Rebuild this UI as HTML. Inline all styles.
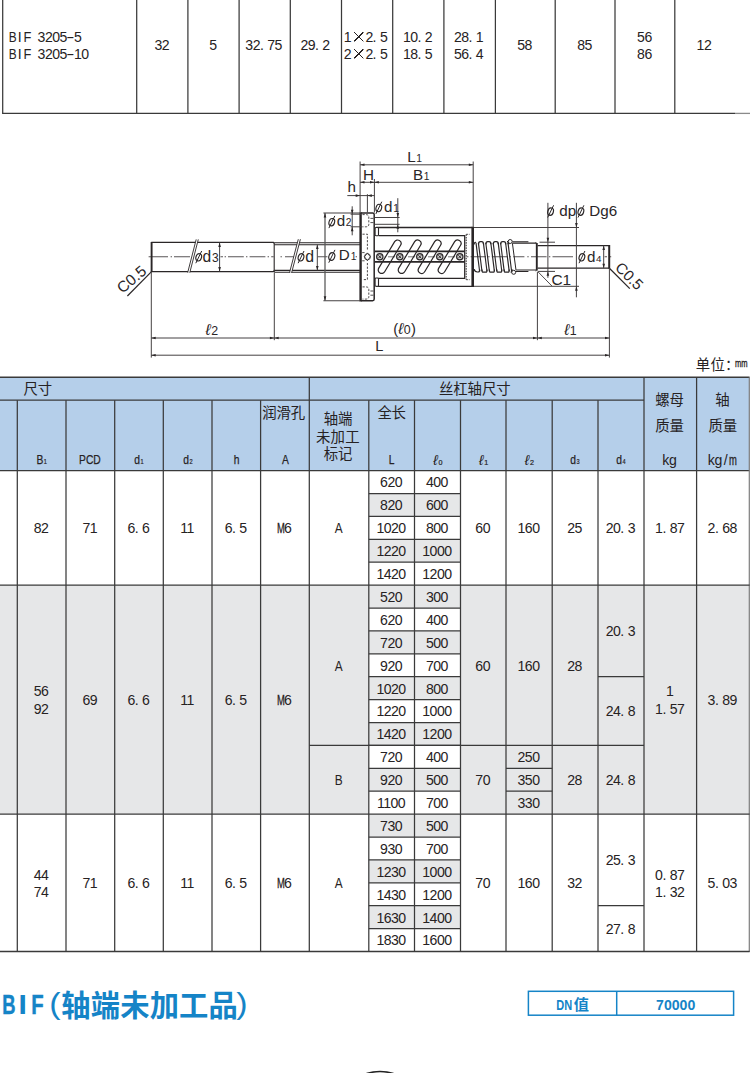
<!DOCTYPE html>
<html lang="zh-CN"><head><meta charset="utf-8"><title>BIF (轴端未加工品) 规格表</title>
<style>
html,body{margin:0;padding:0;background:#fff}
body{width:750px;height:1073px;position:relative;overflow:hidden;font-family:"Liberation Sans",sans-serif;color:#262223}
#art{position:absolute;left:0;top:0;width:750px;height:1073px;display:block}
#art path{fill:none}
#art .dg text{font-family:"Liberation Sans",sans-serif;fill:#2a2627}
#art text.cj{font-family:"Liberation Sans","Noto Sans CJK SC",sans-serif;font-size:14.4px;fill:#262223}
.t{position:absolute;width:120px;height:20px;line-height:20px;text-align:center;white-space:nowrap;font-size:14.1px;letter-spacing:-.55px}
.t.l{text-align:left;width:auto}
.t i{font-style:normal;letter-spacing:3.4px}
.m{display:inline-block;text-align:center;letter-spacing:0;white-space:pre}
.x{color:transparent;height:20px;vertical-align:top;background:linear-gradient(45deg,transparent calc(50% - .55px),#262223 calc(50% - .5px),#262223 calc(50% + .5px),transparent calc(50% + .55px)) 50% 5.3px/9.6px 9.6px no-repeat,linear-gradient(-45deg,transparent calc(50% - .55px),#262223 calc(50% - .5px),#262223 calc(50% + .5px),transparent calc(50% + .55px)) 50% 5.3px/9.6px 9.6px no-repeat}
.hd{font-size:13.2px;letter-spacing:0}
.hx{display:inline-block;transform:scaleX(.78);font-weight:400;-webkit-text-stroke:.25px #262223}
.hx sub,.ls{font-size:7.2px;vertical-align:baseline;position:relative;top:.2px;margin-left:.6px;-webkit-text-stroke:.2px #262223}
.hl{display:inline-block;font-style:italic;font-size:14.4px}
.ttl{font-size:27.4px;font-weight:700;color:#1584c7;letter-spacing:0;height:40px;line-height:40px}
.dn{font-size:14.1px;font-weight:700;color:#1584c7;letter-spacing:0}
</style></head><body>
<svg id="art" width="750" height="1073" viewBox="0 0 750 1073">
<path d="M2.7 0V113.4" stroke="#3a3a3a" stroke-width="1.25"/>
<path d="M136.7 0V113.4" stroke="#3a3a3a" stroke-width="1.25"/>
<path d="M187.9 0V113.4" stroke="#3a3a3a" stroke-width="1.25"/>
<path d="M239.1 0V113.4" stroke="#3a3a3a" stroke-width="1.25"/>
<path d="M290.3 0V113.4" stroke="#3a3a3a" stroke-width="1.25"/>
<path d="M341.5 0V113.4" stroke="#3a3a3a" stroke-width="1.25"/>
<path d="M392.7 0V113.4" stroke="#3a3a3a" stroke-width="1.25"/>
<path d="M443.9 0V113.4" stroke="#3a3a3a" stroke-width="1.25"/>
<path d="M495.4 0V113.4" stroke="#3a3a3a" stroke-width="1.25"/>
<path d="M555.2 0V113.4" stroke="#3a3a3a" stroke-width="1.25"/>
<path d="M615 0V113.4" stroke="#3a3a3a" stroke-width="1.25"/>
<path d="M674.8 0V113.4" stroke="#3a3a3a" stroke-width="1.25"/>
<path d="M2.1 113.4H735" stroke="#3a3a3a" stroke-width="1.3"/>
<path d="M735 113.4H750" stroke="#8a8a8a" stroke-width="1.3"/>
<rect x="0" y="377.2" width="749.6" height="93.4" fill="#b5cfea"/>
<rect x="0" y="585.1" width="749.6" height="229" fill="#e6e7e8"/>
<rect x="368.8" y="493.5" width="91.7" height="22.9" fill="#e6e7e8"/>
<rect x="368.8" y="539.3" width="91.7" height="22.9" fill="#e6e7e8"/>
<rect x="368.8" y="608" width="91.7" height="22.9" fill="#fff"/>
<rect x="368.8" y="653.8" width="91.7" height="22.9" fill="#fff"/>
<rect x="368.8" y="699.6" width="91.7" height="22.9" fill="#fff"/>
<rect x="368.8" y="745.4" width="91.7" height="22.9" fill="#fff"/>
<rect x="368.8" y="791.2" width="91.7" height="22.9" fill="#fff"/>
<rect x="368.8" y="814.1" width="91.7" height="22.9" fill="#e6e7e8"/>
<rect x="368.8" y="859.9" width="91.7" height="22.9" fill="#e6e7e8"/>
<rect x="368.8" y="905.7" width="91.7" height="22.9" fill="#e6e7e8"/>
<path d="M0 377.2H749.6" stroke="#3a3a3a" stroke-width="1.4"/>
<path d="M0 400.2H644" stroke="#3a3a3a" stroke-width="1.3"/>
<path d="M0 470.6H749.6" stroke="#3a3a3a" stroke-width="1.4"/>
<path d="M17.3 400.2V952.1" stroke="#3a3a3a" stroke-width="1.25"/>
<path d="M66 400.2V952.1" stroke="#3a3a3a" stroke-width="1.25"/>
<path d="M114.7 400.2V952.1" stroke="#3a3a3a" stroke-width="1.25"/>
<path d="M163.3 400.2V952.1" stroke="#3a3a3a" stroke-width="1.25"/>
<path d="M212 400.2V952.1" stroke="#3a3a3a" stroke-width="1.25"/>
<path d="M260.6 400.2V952.1" stroke="#3a3a3a" stroke-width="1.25"/>
<path d="M309.3 377.2V952.1" stroke="#3a3a3a" stroke-width="1.25"/>
<path d="M368.8 400.2V952.1" stroke="#3a3a3a" stroke-width="1.25"/>
<path d="M414.5 400.2V952.1" stroke="#3a3a3a" stroke-width="1.25"/>
<path d="M460.5 400.2V952.1" stroke="#3a3a3a" stroke-width="1.25"/>
<path d="M506 400.2V952.1" stroke="#3a3a3a" stroke-width="1.25"/>
<path d="M552.2 400.2V952.1" stroke="#3a3a3a" stroke-width="1.25"/>
<path d="M598 400.2V952.1" stroke="#3a3a3a" stroke-width="1.25"/>
<path d="M644 377.2V952.1" stroke="#3a3a3a" stroke-width="1.25"/>
<path d="M696.6 377.2V952.1" stroke="#3a3a3a" stroke-width="1.25"/>
<path d="M749.3 377.2V952.1" stroke="#7d7d7d" stroke-width="1.2"/>
<path d="M0 585.1H749.6" stroke="#3a3a3a" stroke-width="1.35"/>
<path d="M0 814.1H749.6" stroke="#3a3a3a" stroke-width="1.35"/>
<path d="M0 951.5H749.6" stroke="#3a3a3a" stroke-width="1.35"/>
<path d="M368.8 493.5H460.5" stroke="#3a3a3a" stroke-width="1.25"/>
<path d="M368.8 516.4H460.5" stroke="#3a3a3a" stroke-width="1.25"/>
<path d="M368.8 539.3H460.5" stroke="#3a3a3a" stroke-width="1.25"/>
<path d="M368.8 562.2H460.5" stroke="#3a3a3a" stroke-width="1.25"/>
<path d="M368.8 608H460.5" stroke="#3a3a3a" stroke-width="1.25"/>
<path d="M368.8 630.9H460.5" stroke="#3a3a3a" stroke-width="1.25"/>
<path d="M368.8 653.8H460.5" stroke="#3a3a3a" stroke-width="1.25"/>
<path d="M368.8 676.7H460.5" stroke="#3a3a3a" stroke-width="1.25"/>
<path d="M368.8 699.6H460.5" stroke="#3a3a3a" stroke-width="1.25"/>
<path d="M368.8 722.5H460.5" stroke="#3a3a3a" stroke-width="1.25"/>
<path d="M368.8 745.4H460.5" stroke="#3a3a3a" stroke-width="1.25"/>
<path d="M368.8 768.3H460.5" stroke="#3a3a3a" stroke-width="1.25"/>
<path d="M368.8 791.2H460.5" stroke="#3a3a3a" stroke-width="1.25"/>
<path d="M368.8 837H460.5" stroke="#3a3a3a" stroke-width="1.25"/>
<path d="M368.8 859.9H460.5" stroke="#3a3a3a" stroke-width="1.25"/>
<path d="M368.8 882.8H460.5" stroke="#3a3a3a" stroke-width="1.25"/>
<path d="M368.8 905.7H460.5" stroke="#3a3a3a" stroke-width="1.25"/>
<path d="M368.8 928.6H460.5" stroke="#3a3a3a" stroke-width="1.25"/>
<path d="M309.3 745.4H644" stroke="#3a3a3a" stroke-width="1.25"/>
<path d="M598 676.7H644" stroke="#3a3a3a" stroke-width="1.25"/>
<path d="M506 768.3H552.2" stroke="#3a3a3a" stroke-width="1.25"/>
<path d="M506 791.2H552.2" stroke="#3a3a3a" stroke-width="1.25"/>
<path d="M598 905.7H644" stroke="#3a3a3a" stroke-width="1.25"/>
<text class="cj" x="23.4 37.8" y="394.47">尺寸</text>
<text class="cj" x="439 453.3 467.6 481.9 496.2" y="394.47">丝杠轴尺寸</text>
<text class="cj" x="262.2 276.45 290.7" y="418.07">润滑孔</text>
<text class="cj" x="323.8 338" y="424.47">轴端</text>
<text class="cj" x="316 330.6 345.2" y="441.57">未加工</text>
<text class="cj" x="323.8 338" y="459.17">标记</text>
<text class="cj" x="377.4 391.6" y="418.07">全长</text>
<text class="cj" x="655.2 669.4" y="405.27">螺母</text>
<text class="cj" x="655.2 669.4" y="431.17">质量</text>
<text class="cj" x="715.3" y="405.27">轴</text>
<text class="cj" x="708.6 722.8" y="431.17">质量</text>
<text class="cj" x="695.8 710.4 725" y="369.87">单位：</text>
<text x="61.3 90.75 120.2 149.65 179.1 208.55" y="1016.43" font-family='"Liberation Sans","Noto Sans CJK SC",sans-serif' font-size="29.3" font-weight="700" fill="#1584c7">轴端未加工品</text>
<rect x="528.4" y="991.3" width="205.2" height="23.9" fill="#fff" stroke="#1584c7" stroke-width="1.5"/>
<path d="M616.7 991.3V1015.2" stroke="#1584c7" stroke-width="1.5"/>
<text x="573.7" y="1010.48" font-family='"Liberation Sans","Noto Sans CJK SC",sans-serif' font-size="15.2" font-weight="700" fill="#1584c7">值</text>
<path d="M366.5 1073.5Q380 1069.6 393.5 1073.5" fill="none" stroke="#222" stroke-width="1.6"/>
<g class="dg" fill="none"><path d="M148.6 256.8H168M170.6 256.8H172M174 256.8H190M192.4 256.8H193.8M220.5 256.8H223M224.6 256.8H226M228 256.8H243.8M246 256.8H247.4M249.6 256.8H265.4M267.6 256.8H269M271.2 256.8H273.6M280.5 256.8H281.9M285 256.8H296M317.6 256.8H327.4M355.6 256.8H357M467 256.8H468.4M470.6 256.8H486M488.2 256.8H489.6M491.8 256.8H507.4M509.6 256.8H511M513.2 256.8H524.4M527.3 256.8H528.7M531 256.8H546.6M548.9 256.8H550.3M552.5 256.8H573M604.6 256.8H607M609.5 256.8H611.2" stroke="#5a5657" stroke-width="1.05"/><path d="M151.3 242.4H273.4L274.2 243.2M151.3 271.5H273.4L274.2 270.7" stroke="#2a2627" stroke-width="1.25"/><path d="M151.6 242V272" stroke="#2a2627" stroke-width="1.9"/><path d="M274.2 242.8H360M274.2 272.2H360" stroke="#2a2627" stroke-width="1.05"/><path d="M274.2 244.7H360M274.2 270.3H360" stroke="#2a2627" stroke-width="1.15"/><path d="M274.2 243V272" stroke="#2a2627" stroke-width="1.1"/><path d="M187.7 272.6L196.2 239.4L198.3 239.4L189.8 272.6Z" style="fill:#fff" stroke="none"/><path d="M187.7 272.6L196.2 239.4" stroke="#2a2627" stroke-width="0.9"/><path d="M189.8 272.6L198.3 239.4" stroke="#2a2627" stroke-width="0.9"/><path d="M289.5 272.8L298.3 239.2L300.4 239.2L291.6 272.8Z" style="fill:#fff" stroke="none"/><path d="M289.5 272.8L298.3 239.2" stroke="#2a2627" stroke-width="0.9"/><path d="M291.6 272.8L300.4 239.2" stroke="#2a2627" stroke-width="0.9"/><path d="M360.6 213H372.6Q374.2 213 374.2 214.6V299.1Q374.2 300.7 372.6 300.7H360.6" stroke="#2a2627" stroke-width="1.5"/><path d="M360.6 212.3V301.4" stroke="#2a2627" stroke-width="2.4"/><path d="M362.5 214.6H365.8Q368.8 214.6 368.8 217V224.4Q368.8 226.8 365.8 226.8H362.5" stroke="#2a2627" stroke-width="0.85" stroke-dasharray="2.2 1.4"/><path d="M362.5 286.9H365.8Q368.8 286.9 368.8 289.3V296.7Q368.8 299.1 365.8 299.1H362.5" stroke="#2a2627" stroke-width="0.85" stroke-dasharray="2.2 1.4"/><path d="M370.4 218.4H373.4M370.4 222.6H373.4M370.4 291H373.4M370.4 295.2H373.4" stroke="#2a2627" stroke-width="0.8"/><path d="M362.5 234.2H367.4V250.5M367.4 263V279.6H362.5" stroke="#2a2627" stroke-width="0.85" stroke-dasharray="2.2 1.4"/><path d="M362.2 252.6H364.6M362.2 260.8H364.6" stroke="#2a2627" stroke-width="0.8"/><path d="M367.4 252.9L370.3 256.8L367.4 260.7L364.5 256.8Z" style="fill:#fff" stroke="#2a2627" stroke-width=".85"/><circle cx="367.4" cy="256.8" r="3.1" fill="none" stroke="#2a2627" stroke-width=".7"/><path d="M376 227.5H472.6M376 286.3H472.6" stroke="#2a2627" stroke-width="1.3"/><path d="M472.7 226.8V287" stroke="#2a2627" stroke-width="2.6"/><rect x="375.1" y="227.5" width="3.4" height="8.2" rx=".9" style="fill:#fff" stroke="#2a2627" stroke-width="1.1"/><rect x="375.1" y="278" width="3.4" height="8.3" rx=".9" style="fill:#fff" stroke="#2a2627" stroke-width="1.1"/><path d="M378.5 235.6H464.7V278.3H378.5" stroke="#2a2627" stroke-width="1.25"/><path d="M384.6 256.8H395.2M404.6 256.8H415.2M424.6 256.8H435.2M444.6 256.8H455.2" stroke="#777" stroke-width="1" stroke-dasharray="1.4 2 7.2 20"/><path d="M384.66 271.73L400.56 245.23A3.45 3.45 0 0 0 394.64 241.67L378.74 268.17A3.45 3.45 0 0 0 384.66 271.73Z" stroke="#2a2627" stroke-width="1.2"/><path d="M404.66 271.73L420.56 245.23A3.45 3.45 0 0 0 414.64 241.67L398.74 268.17A3.45 3.45 0 0 0 404.66 271.73Z" stroke="#2a2627" stroke-width="1.2"/><path d="M424.66 271.73L440.56 245.23A3.45 3.45 0 0 0 434.64 241.67L418.74 268.17A3.45 3.45 0 0 0 424.66 271.73Z" stroke="#2a2627" stroke-width="1.2"/><path d="M444.66 271.73L460.56 245.23A3.45 3.45 0 0 0 454.64 241.67L438.74 268.17A3.45 3.45 0 0 0 444.66 271.73Z" stroke="#2a2627" stroke-width="1.2"/><path d="M374.8 251.4H464.7M374.8 261.9H464.7" stroke="#2a2627" stroke-width="1.7"/><circle cx="379.8" cy="256.8" r="3.15" style="fill:#c9c9c9" stroke="#2a2627" stroke-width="1.25"/><path d="M378.3 255.3l3 3M378.3 258.3l3 -3" stroke="#2a2627" stroke-width="0.9"/><circle cx="399.8" cy="256.8" r="3.15" style="fill:#c9c9c9" stroke="#2a2627" stroke-width="1.25"/><path d="M398.3 255.3l3 3M398.3 258.3l3 -3" stroke="#2a2627" stroke-width="0.9"/><circle cx="419.8" cy="256.8" r="3.15" style="fill:#c9c9c9" stroke="#2a2627" stroke-width="1.25"/><path d="M418.3 255.3l3 3M418.3 258.3l3 -3" stroke="#2a2627" stroke-width="0.9"/><circle cx="439.8" cy="256.8" r="3.15" style="fill:#c9c9c9" stroke="#2a2627" stroke-width="1.25"/><path d="M438.3 255.3l3 3M438.3 258.3l3 -3" stroke="#2a2627" stroke-width="0.9"/><circle cx="459.8" cy="256.8" r="3.15" style="fill:#c9c9c9" stroke="#2a2627" stroke-width="1.25"/><path d="M458.3 255.3l3 3M458.3 258.3l3 -3" stroke="#2a2627" stroke-width="0.9"/><path d="M466.2 234.3V279.7" stroke="#2a2627" stroke-width="1" stroke-dasharray="1.6 1"/><path d="M466.2 234.3H470M466.2 279.7H470" stroke="#2a2627" stroke-width="0.8" stroke-dasharray="2 1.2"/><path d="M476 242.9L479.6 271.2" stroke="#2a2627" stroke-width="1.15"/><path d="M478.4 242.9L482 271.2" stroke="#2a2627" stroke-width="1.15"/><path d="M483.4 242.9L487 271.2" stroke="#2a2627" stroke-width="1.15"/><path d="M485.8 242.9L489.4 271.2" stroke="#2a2627" stroke-width="1.15"/><path d="M490.8 242.9L494.4 271.2" stroke="#2a2627" stroke-width="1.15"/><path d="M493.2 242.9L496.8 271.2" stroke="#2a2627" stroke-width="1.15"/><path d="M498.2 242.9L501.8 271.2" stroke="#2a2627" stroke-width="1.15"/><path d="M500.6 242.9L504.2 271.2" stroke="#2a2627" stroke-width="1.15"/><path d="M505.6 242.9L509.2 271.2" stroke="#2a2627" stroke-width="1.15"/><path d="M508 242.9L511.6 271.2" stroke="#2a2627" stroke-width="1.15"/><path d="M474.2 244.4C474.2 242.6 474.9 242 476 242.6" stroke="#2a2627" stroke-width="1.15"/><path d="M478.5 244.3C478.5 242.3 479.2 241.6 480.3 241.6H481.7C482.8 241.6 483.5 242.3 483.5 244.3" stroke="#2a2627" stroke-width="1.2"/><path d="M485.9 244.3C485.9 242.3 486.6 241.6 487.7 241.6H489.1C490.2 241.6 490.9 242.3 490.9 244.3" stroke="#2a2627" stroke-width="1.2"/><path d="M493.3 244.3C493.3 242.3 494 241.6 495.1 241.6H496.5C497.6 241.6 498.3 242.3 498.3 244.3" stroke="#2a2627" stroke-width="1.2"/><path d="M500.7 244.3C500.7 242.3 501.4 241.6 502.5 241.6H503.9C505 241.6 505.7 242.3 505.7 244.3" stroke="#2a2627" stroke-width="1.2"/><path d="M508.1 244.3C508.1 242.3 508.8 241.6 509.9 241.6H507C508.1 241.6 508.8 242.3 508.8 244.3" stroke="#2a2627" stroke-width="1.2"/><path d="M474.2 269.2C474.6 271.6 475.6 272 477.4 272H478.2C479 272 479.7 271.4 479.8 269.6" stroke="#2a2627" stroke-width="1.2"/><path d="M482 269.4C482 272.8 482.7 272.1 483.8 272.1H485.2C486.3 272.1 487 272.8 487 269.4" stroke="#2a2627" stroke-width="1.2"/><path d="M489.4 269.4C489.4 272.8 490.1 272.1 491.2 272.1H492.6C493.7 272.1 494.4 272.8 494.4 269.4" stroke="#2a2627" stroke-width="1.2"/><path d="M496.8 269.4C496.8 272.8 497.5 272.1 498.6 272.1H500C501.1 272.1 501.8 272.8 501.8 269.4" stroke="#2a2627" stroke-width="1.2"/><path d="M504.2 269.4C504.2 272.8 504.9 272.1 506 272.1H507.4C508.5 272.1 509.2 272.8 509.2 269.4" stroke="#2a2627" stroke-width="1.2"/><path d="M511.6 269.4C511.6 272.8 512.3 272.1 513.4 272.1H510.6C511.7 272.1 512.4 272.8 512.4 269.4" stroke="#2a2627" stroke-width="1.2"/><path d="M512.4 243.2L516 270.2" stroke="#2a2627" stroke-width="1"/><circle cx="510.2" cy="241.5" r="2" style="fill:#fff" stroke="#2a2627" stroke-width="1"/><circle cx="513.7" cy="272.3" r="2" style="fill:#fff" stroke="#2a2627" stroke-width="1"/><path d="M512.4 241.7H528.4M516 271.5H528.4" stroke="#2a2627" stroke-width="1.1"/><path d="M512.6 243.1H536M516.2 270.0H536" stroke="#2a2627" stroke-width="1.1"/><path d="M536.5 243Q536.5 242.6 535.6 242.6M536.5 270.4Q536.5 270.9 535.6 270.9" stroke="#2a2627" stroke-width="1"/><path d="M536.8 243V270.6" stroke="#2a2627" stroke-width="1.9"/><path d="M537.6 245.6H609M537.6 268.1H609" stroke="#2a2627" stroke-width="1.25"/><path d="M609.2 245V268.7" stroke="#2a2627" stroke-width="2"/><path d="M360.1 161.5L360.1 212.5" stroke="#454142" stroke-width="1"/><path d="M473.2 161.5L473.2 227" stroke="#454142" stroke-width="1"/><path d="M360.1 164.8L473.2 164.8" stroke="#454142" stroke-width="1"/><path d="M360.1 164.8L364.5 163.5L364.5 166.1Z" style="fill:#2a2627" stroke="none"/><path d="M473.2 164.8L468.8 166.1L468.8 163.5Z" style="fill:#2a2627" stroke="none"/><text x="407.2" y="162.4" font-size="15.2">L<tspan font-size="10.3" dx="0.6">1</tspan></text><path d="M360.1 182.3L473.2 182.3" stroke="#454142" stroke-width="1"/><path d="M374.4 179L374.4 212.5" stroke="#454142" stroke-width="1"/><path d="M360.1 182.3L364.5 181L364.5 183.6Z" style="fill:#2a2627" stroke="none"/><path d="M374.4 182.3L370 183.6L370 181Z" style="fill:#2a2627" stroke="none"/><path d="M374.4 182.3L378.8 181L378.8 183.6Z" style="fill:#2a2627" stroke="none"/><path d="M473.2 182.3L468.8 183.6L468.8 181Z" style="fill:#2a2627" stroke="none"/><text x="362.9" y="179.8" font-size="15.2">H</text><text x="413" y="179.8" font-size="15.2">B<tspan font-size="10.3" dx="0.6">1</tspan></text><path d="M347.3 195.6L374.4 195.6" stroke="#454142" stroke-width="1"/><path d="M367.4 194.2L367.4 212.5" stroke="#454142" stroke-width="1"/><path d="M360.1 195.6L355.7 196.9L355.7 194.3Z" style="fill:#2a2627" stroke="none"/><path d="M367.4 195.6L371.8 194.3L371.8 196.9Z" style="fill:#2a2627" stroke="none"/><text x="347.5" y="192.2" font-size="15.2">h</text><path d="M397.8 198.2L397.8 232.3" stroke="#454142" stroke-width="1"/><path d="M374.6 217.5L399.6 217.5" stroke="#454142" stroke-width="1"/><path d="M374.6 224.3L399.6 224.3" stroke="#454142" stroke-width="1"/><path d="M397.8 217.5L396.5 213.1L399.1 213.1Z" style="fill:#2a2627" stroke="none"/><path d="M397.8 224.3L399.1 228.7L396.5 228.7Z" style="fill:#2a2627" stroke="none"/><ellipse cx="378.8" cy="208" rx="2.75" ry="3.75" transform="rotate(18 378.8 208)" fill="none" stroke="#2a2627" stroke-width="1.15"/><path d="M375.9 213.9L381.8 201.7" stroke="#2a2627" stroke-width="1"/><text x="384.1" y="211.8" font-size="15.2">d<tspan font-size="10.3" dx="0.6">1</tspan></text><path d="M352.2 206.3L352.2 235.3" stroke="#454142" stroke-width="1"/><path d="M350.6 226.8L362.3 226.8" stroke="#454142" stroke-width="1"/><path d="M350.6 214.2L361 214.2" stroke="#454142" stroke-width="1"/><path d="M352.2 214.2L350.9 209.8L353.5 209.8Z" style="fill:#2a2627" stroke="none"/><path d="M352.2 226.8L353.5 231.2L350.9 231.2Z" style="fill:#2a2627" stroke="none"/><ellipse cx="331.8" cy="222.2" rx="2.75" ry="3.75" transform="rotate(18 331.8 222.2)" fill="none" stroke="#2a2627" stroke-width="1.15"/><path d="M328.9 228.1L334.8 215.9" stroke="#2a2627" stroke-width="1"/><text x="336.7" y="226.2" font-size="15.2">d<tspan font-size="10.3" dx="0.6">2</tspan></text><path d="M323.4 213L360 213" stroke="#454142" stroke-width="1.1"/><path d="M323.4 300.7L360 300.7" stroke="#454142" stroke-width="1.1"/><path d="M325 213L325 300.7" stroke="#555" stroke-width="1.25"/><path d="M325 213L326.3 217.4L323.7 217.4Z" style="fill:#2a2627" stroke="none"/><path d="M325 300.7L323.7 296.3L326.3 296.3Z" style="fill:#2a2627" stroke="none"/><ellipse cx="331.8" cy="256.5" rx="2.89" ry="3.94" transform="rotate(18 331.8 256.5)" fill="none" stroke="#2a2627" stroke-width="1.15"/><path d="M328.75 262.69L334.95 249.88" stroke="#2a2627" stroke-width="1"/><text x="338.7" y="259.8" font-size="15.2">D<tspan font-size="10.3" dx="1">1</tspan></text><path d="M317.3 244.7L317.3 270.3" stroke="#454142" stroke-width="1"/><path d="M317.3 244.7L318.6 249.1L316 249.1Z" style="fill:#2a2627" stroke="none"/><path d="M317.3 270.3L316 265.9L318.6 265.9Z" style="fill:#2a2627" stroke="none"/><ellipse cx="301" cy="257.3" rx="2.75" ry="3.75" transform="rotate(18 301 257.3)" fill="none" stroke="#2a2627" stroke-width="1.15"/><path d="M298.1 263.2L304 251" stroke="#2a2627" stroke-width="1"/><text x="305.2" y="261.6" font-size="15.8">d</text><path d="M219.6 242.6L219.6 271.4" stroke="#454142" stroke-width="1"/><path d="M219.6 242.6L220.9 247L218.3 247Z" style="fill:#2a2627" stroke="none"/><path d="M219.6 271.4L218.3 267L220.9 267Z" style="fill:#2a2627" stroke="none"/><ellipse cx="198.7" cy="257.3" rx="2.75" ry="3.75" transform="rotate(18 198.7 257.3)" fill="none" stroke="#2a2627" stroke-width="1.15"/><path d="M195.8 263.2L201.7 251" stroke="#2a2627" stroke-width="1"/><text x="202.5" y="261.6" font-size="15.6">d<tspan font-size="12" dx="0.9">3</tspan></text><path d="M547.9 202.8L547.9 277.8" stroke="#454142" stroke-width="1"/><path d="M539.5 242.2L555 242.2" stroke="#454142" stroke-width="1"/><path d="M538 271.4L555 271.4" stroke="#454142" stroke-width="1"/><path d="M547.9 242.2L546.6 237.8L549.2 237.8Z" style="fill:#2a2627" stroke="none"/><path d="M547.9 271.4L549.2 275.8L546.6 275.8Z" style="fill:#2a2627" stroke="none"/><ellipse cx="550.6" cy="211.6" rx="2.75" ry="3.75" transform="rotate(18 550.6 211.6)" fill="none" stroke="#2a2627" stroke-width="1.15"/><path d="M547.7 217.5L553.6 205.3" stroke="#2a2627" stroke-width="1"/><text x="559.2" y="215.8" font-size="15.2">dp</text><path d="M576.4 202.8L576.4 297.3" stroke="#454142" stroke-width="1"/><path d="M474 227.5L579 227.5" stroke="#454142" stroke-width="1"/><path d="M474 286.3L579 286.3" stroke="#454142" stroke-width="1"/><path d="M576.4 227.5L575.1 223.1L577.7 223.1Z" style="fill:#2a2627" stroke="none"/><path d="M576.4 286.3L577.7 290.7L575.1 290.7Z" style="fill:#2a2627" stroke="none"/><ellipse cx="580.9" cy="211.6" rx="2.75" ry="3.75" transform="rotate(18 580.9 211.6)" fill="none" stroke="#2a2627" stroke-width="1.15"/><path d="M578 217.5L583.9 205.3" stroke="#2a2627" stroke-width="1"/><text x="589.3" y="215.8" font-size="15.2">Dg6</text><path d="M603.7 245.6L603.7 268.1" stroke="#454142" stroke-width="1"/><path d="M603.7 245.6L605 250L602.4 250Z" style="fill:#2a2627" stroke="none"/><path d="M603.7 268.1L602.4 263.7L605 263.7Z" style="fill:#2a2627" stroke="none"/><ellipse cx="581.9" cy="257.3" rx="2.75" ry="3.75" transform="rotate(18 581.9 257.3)" fill="none" stroke="#2a2627" stroke-width="1.15"/><path d="M579 263.2L584.9 251" stroke="#2a2627" stroke-width="1"/><text x="586.9" y="261.5" font-size="15.2">d<tspan font-size="9.8" dx="0.7">4</tspan></text><path d="M537.8 271.6L552 286.1" stroke="#454142" stroke-width="0.95"/><text x="551.4" y="285" font-size="15.4">C1</text><path d="M151.5 271.7L127.4 296" stroke="#2a2627" stroke-width="1.2"/><text x="0" y="0" font-size="15.5" transform="translate(122.6 294.0) rotate(-40.5)">C0.5</text><path d="M609.4 268.2L629.8 288.6" stroke="#2a2627" stroke-width="1.25"/><text x="0" y="0" font-size="15.2" transform="translate(614.3 268.4) rotate(45)">C0.5</text><path d="M151.3 272L151.3 357.6" stroke="#454142" stroke-width="1"/><path d="M274.3 272.6L274.3 340.2" stroke="#454142" stroke-width="1"/><path d="M537.4 272L537.4 340.2" stroke="#454142" stroke-width="1"/><path d="M609.4 268.5L609.4 357.6" stroke="#454142" stroke-width="1"/><path d="M151.3 338L609.4 338" stroke="#454142" stroke-width="1"/><path d="M151.3 338L155.7 336.7L155.7 339.3Z" style="fill:#2a2627" stroke="none"/><path d="M274.3 338L269.9 339.3L269.9 336.7Z" style="fill:#2a2627" stroke="none"/><path d="M274.3 338L278.7 336.7L278.7 339.3Z" style="fill:#2a2627" stroke="none"/><path d="M537.4 338L533 339.3L533 336.7Z" style="fill:#2a2627" stroke="none"/><path d="M537.4 338L541.8 336.7L541.8 339.3Z" style="fill:#2a2627" stroke="none"/><path d="M609.4 338L605 339.3L605 336.7Z" style="fill:#2a2627" stroke="none"/><path d="M151.3 355.2L609.4 355.2" stroke="#454142" stroke-width="1"/><path d="M151.3 355.2L155.7 353.9L155.7 356.5Z" style="fill:#2a2627" stroke="none"/><path d="M609.4 355.2L605 356.5L605 353.9Z" style="fill:#2a2627" stroke="none"/><text x="205.6" y="334.8" font-size="16" font-style="italic">ℓ<tspan font-size="12.4" font-style="normal" dx=".4">2</tspan></text><text x="393.2" y="333.8" font-size="14.8">(<tspan font-size="16" font-style="italic">ℓ</tspan><tspan font-size="12.4" dx=".4">0</tspan><tspan dx=".3">)</tspan></text><text x="564.3" y="335.3" font-size="16" font-style="italic">ℓ<tspan font-size="12.4" font-style="normal" dx=".4">1</tspan></text><text x="375.3" y="351.2" font-size="14.6">L</text></g>
</svg>
<div class="t l" style="left:8.7px;top:26.71px"><span class="m" style="width:9.4px;margin:0 -1.05px;transform:scaleX(0.84);">B</span><span class="m" style="width:3.92px;margin:0 1.69px;">I</span><span class="m" style="width:8.61px;margin:0 -0.66px;transform:scaleX(0.91);">F</span><span class="m" style="width:7.3px"> </span><span class="m" style="width:7.84px;margin:0 -0.27px;">3</span><span class="m" style="width:7.84px;margin:0 -0.27px;">2</span><span class="m" style="width:7.84px;margin:0 -0.27px;">0</span><span class="m" style="width:7.84px;margin:0 -0.27px;">5</span><span class="m" style="width:4.7px;margin:0 1.3px;transform:scaleX(1.75)">-</span><span class="m" style="width:7.84px;margin:0 -0.27px;">5</span></div>
<div class="t l" style="left:8.7px;top:43.81px"><span class="m" style="width:9.4px;margin:0 -1.05px;transform:scaleX(0.84);">B</span><span class="m" style="width:3.92px;margin:0 1.69px;">I</span><span class="m" style="width:8.61px;margin:0 -0.66px;transform:scaleX(0.91);">F</span><span class="m" style="width:7.3px"> </span><span class="m" style="width:7.84px;margin:0 -0.27px;">3</span><span class="m" style="width:7.84px;margin:0 -0.27px;">2</span><span class="m" style="width:7.84px;margin:0 -0.27px;">0</span><span class="m" style="width:7.84px;margin:0 -0.27px;">5</span><span class="m" style="width:4.7px;margin:0 1.3px;transform:scaleX(1.75)">-</span><span class="m" style="width:7.84px;margin:0 -0.27px;">1</span><span class="m" style="width:7.84px;margin:0 -0.27px;">0</span></div>
<div class="t n" style="left:101.8px;top:34.51px;">32</div>
<div class="t n" style="left:153px;top:34.51px;">5</div>
<div class="t n" style="left:203.6px;top:34.51px;">32<i>.</i>75</div>
<div class="t n" style="left:255px;top:34.51px;">29<i>.</i>2</div>
<div class="t n" style="left:305.8px;top:26.71px;"><span class="m" style="width:7.84px;margin:0 -0.27px;">1</span><span class="m x" style="width:14.6px">×</span><span class="m" style="width:7.84px;margin:0 -0.27px;">2</span><span class="m" style="width:3.92px;margin:0 3.98px 0 -.6px">.</span><span class="m" style="width:7.84px;margin:0 -0.27px;">5</span></div>
<div class="t n" style="left:305.8px;top:43.81px;"><span class="m" style="width:7.84px;margin:0 -0.27px;">2</span><span class="m x" style="width:14.6px">×</span><span class="m" style="width:7.84px;margin:0 -0.27px;">2</span><span class="m" style="width:3.92px;margin:0 3.98px 0 -.6px">.</span><span class="m" style="width:7.84px;margin:0 -0.27px;">5</span></div>
<div class="t n" style="left:357.5px;top:26.71px;">10<i>.</i>2</div>
<div class="t n" style="left:357.5px;top:43.81px;">18<i>.</i>5</div>
<div class="t n" style="left:408.5px;top:26.71px;">28<i>.</i>1</div>
<div class="t n" style="left:408.5px;top:43.81px;">56<i>.</i>4</div>
<div class="t n" style="left:464.5px;top:34.51px;">58</div>
<div class="t n" style="left:524.6px;top:34.51px;">85</div>
<div class="t n" style="left:584.4px;top:26.71px;">56</div>
<div class="t n" style="left:584.4px;top:43.81px;">86</div>
<div class="t n" style="left:643.9px;top:34.51px;">12</div>
<div class="t l" style="left:734.6px;top:354.39px;font-size:10.4px;letter-spacing:0;-webkit-text-stroke:.3px #262223;transform:scaleX(.73);transform-origin:0 50%">mm</div>
<div class="t hd" style="left:-18.35px;top:449.92px;"><span class="hx">B<sub>1</sub></span></div>
<div class="t hd" style="left:30.35px;top:449.92px;"><span class="hx">PCD</span></div>
<div class="t hd" style="left:79px;top:449.92px;"><span class="hx">d<sub>1</sub></span></div>
<div class="t hd" style="left:127.65px;top:449.92px;"><span class="hx">d<sub>2</sub></span></div>
<div class="t hd" style="left:176.3px;top:449.92px;"><span class="hx">h</span></div>
<div class="t hd" style="left:224.95px;top:449.92px;"><span class="hx">A</span></div>
<div class="t hd" style="left:331.65px;top:449.92px;"><span class="hx">L</span></div>
<div class="t hd" style="left:377.8px;top:449.92px;"><span class="hl">ℓ</span><sub class="ls">0</sub></div>
<div class="t hd" style="left:423.55px;top:449.92px;"><span class="hl">ℓ</span><sub class="ls">1</sub></div>
<div class="t hd" style="left:469.4px;top:449.92px;"><span class="hl">ℓ</span><sub class="ls">2</sub></div>
<div class="t hd" style="left:515.1px;top:449.92px;"><span class="hx">d<sub>3</sub></span></div>
<div class="t hd" style="left:561px;top:449.92px;"><span class="hx">d<sub>4</sub></span></div>
<div class="t n" style="left:609.3px;top:449.61px;"><span class="m" style="width:7.05px;margin:0 0.12px;">k</span><span class="m" style="width:7.84px;margin:0 -0.27px;">g</span></div>
<div class="t n" style="left:662.2px;top:449.61px;"><span class="m" style="width:7.05px;margin:0 0.12px;">k</span><span class="m" style="width:7.84px;margin:0 -0.27px;">g</span><span class="m" style="width:3.92px;margin:0 1.69px;">/</span><span class="m" style="width:11.75px;margin:0 -2.22px;transform:scaleX(0.67);-webkit-text-stroke:.3px #262223;">m</span></div>
<div class="t n" style="left:-18.95px;top:518.26px;">82</div>
<div class="t n" style="left:29.75px;top:518.26px;">71</div>
<div class="t n" style="left:78.4px;top:518.26px;">6<i>.</i>6</div>
<div class="t n" style="left:127.05px;top:518.26px;">11</div>
<div class="t n" style="left:175.7px;top:518.26px;">6<i>.</i>5</div>
<div class="t n" style="left:224.35px;top:518.26px;"><span class="m" style="width:11.75px;margin:0 -2.22px;transform:scaleX(0.67);-webkit-text-stroke:.3px #262223;">M</span><span class="m" style="width:7.84px;margin:0 -0.27px;">6</span></div>
<div class="t n" style="left:278.45px;top:518.26px;"><span class="m" style="width:9.4px;margin:0 -1.05px;transform:scaleX(0.84);">A</span></div>
<div class="t n" style="left:331.05px;top:472.46px;">620</div>
<div class="t n" style="left:376.9px;top:472.46px;">400</div>
<div class="t n" style="left:331.05px;top:495.36px;">820</div>
<div class="t n" style="left:376.9px;top:495.36px;">600</div>
<div class="t n" style="left:331.05px;top:518.26px;">1020</div>
<div class="t n" style="left:376.9px;top:518.26px;">800</div>
<div class="t n" style="left:331.05px;top:541.16px;">1220</div>
<div class="t n" style="left:376.9px;top:541.16px;">1000</div>
<div class="t n" style="left:331.05px;top:564.06px;">1420</div>
<div class="t n" style="left:376.9px;top:564.06px;">1200</div>
<div class="t n" style="left:422.65px;top:518.26px;">60</div>
<div class="t n" style="left:468.5px;top:518.26px;">160</div>
<div class="t n" style="left:514.5px;top:518.26px;">25</div>
<div class="t n" style="left:560.4px;top:518.26px;">20<i>.</i>3</div>
<div class="t n" style="left:609.7px;top:518.26px;">1<i>.</i>87</div>
<div class="t n" style="left:662.2px;top:518.26px;">2<i>.</i>68</div>
<div class="t n" style="left:-18.95px;top:680.91px;">56</div>
<div class="t n" style="left:-18.95px;top:699.11px;">92</div>
<div class="t n" style="left:29.75px;top:690.01px;">69</div>
<div class="t n" style="left:78.4px;top:690.01px;">6<i>.</i>6</div>
<div class="t n" style="left:127.05px;top:690.01px;">11</div>
<div class="t n" style="left:175.7px;top:690.01px;">6<i>.</i>5</div>
<div class="t n" style="left:224.35px;top:690.01px;"><span class="m" style="width:11.75px;margin:0 -2.22px;transform:scaleX(0.67);-webkit-text-stroke:.3px #262223;">M</span><span class="m" style="width:7.84px;margin:0 -0.27px;">6</span></div>
<div class="t n" style="left:278.45px;top:655.66px;"><span class="m" style="width:9.4px;margin:0 -1.05px;transform:scaleX(0.84);">A</span></div>
<div class="t n" style="left:278.45px;top:770.16px;"><span class="m" style="width:9.4px;margin:0 -1.05px;transform:scaleX(0.84);">B</span></div>
<div class="t n" style="left:331.05px;top:586.96px;">520</div>
<div class="t n" style="left:376.9px;top:586.96px;">300</div>
<div class="t n" style="left:331.05px;top:609.86px;">620</div>
<div class="t n" style="left:376.9px;top:609.86px;">400</div>
<div class="t n" style="left:331.05px;top:632.76px;">720</div>
<div class="t n" style="left:376.9px;top:632.76px;">500</div>
<div class="t n" style="left:331.05px;top:655.66px;">920</div>
<div class="t n" style="left:376.9px;top:655.66px;">700</div>
<div class="t n" style="left:331.05px;top:678.56px;">1020</div>
<div class="t n" style="left:376.9px;top:678.56px;">800</div>
<div class="t n" style="left:331.05px;top:701.46px;">1220</div>
<div class="t n" style="left:376.9px;top:701.46px;">1000</div>
<div class="t n" style="left:331.05px;top:724.36px;">1420</div>
<div class="t n" style="left:376.9px;top:724.36px;">1200</div>
<div class="t n" style="left:331.05px;top:747.26px;">720</div>
<div class="t n" style="left:376.9px;top:747.26px;">400</div>
<div class="t n" style="left:331.05px;top:770.16px;">920</div>
<div class="t n" style="left:376.9px;top:770.16px;">500</div>
<div class="t n" style="left:331.05px;top:793.06px;">1100</div>
<div class="t n" style="left:376.9px;top:793.06px;">700</div>
<div class="t n" style="left:422.65px;top:655.66px;">60</div>
<div class="t n" style="left:422.65px;top:770.16px;">70</div>
<div class="t n" style="left:468.5px;top:655.66px;">160</div>
<div class="t n" style="left:468.5px;top:747.26px;">250</div>
<div class="t n" style="left:468.5px;top:770.16px;">350</div>
<div class="t n" style="left:468.5px;top:793.06px;">330</div>
<div class="t n" style="left:514.5px;top:655.66px;">28</div>
<div class="t n" style="left:514.5px;top:770.16px;">28</div>
<div class="t n" style="left:560.4px;top:621.31px;">20<i>.</i>3</div>
<div class="t n" style="left:560.4px;top:701.46px;">24<i>.</i>8</div>
<div class="t n" style="left:560.4px;top:770.16px;">24<i>.</i>8</div>
<div class="t n" style="left:609.7px;top:680.91px;">1</div>
<div class="t n" style="left:609.7px;top:699.11px;">1<i>.</i>57</div>
<div class="t n" style="left:662.2px;top:690.01px;">3<i>.</i>89</div>
<div class="t n" style="left:-18.95px;top:864.71px;">44</div>
<div class="t n" style="left:-18.95px;top:881.71px;">74</div>
<div class="t n" style="left:29.75px;top:873.21px;">71</div>
<div class="t n" style="left:78.4px;top:873.21px;">6<i>.</i>6</div>
<div class="t n" style="left:127.05px;top:873.21px;">11</div>
<div class="t n" style="left:175.7px;top:873.21px;">6<i>.</i>5</div>
<div class="t n" style="left:224.35px;top:873.21px;"><span class="m" style="width:11.75px;margin:0 -2.22px;transform:scaleX(0.67);-webkit-text-stroke:.3px #262223;">M</span><span class="m" style="width:7.84px;margin:0 -0.27px;">6</span></div>
<div class="t n" style="left:278.45px;top:873.21px;"><span class="m" style="width:9.4px;margin:0 -1.05px;transform:scaleX(0.84);">A</span></div>
<div class="t n" style="left:331.05px;top:815.96px;">730</div>
<div class="t n" style="left:376.9px;top:815.96px;">500</div>
<div class="t n" style="left:331.05px;top:838.86px;">930</div>
<div class="t n" style="left:376.9px;top:838.86px;">700</div>
<div class="t n" style="left:331.05px;top:861.76px;">1230</div>
<div class="t n" style="left:376.9px;top:861.76px;">1000</div>
<div class="t n" style="left:331.05px;top:884.66px;">1430</div>
<div class="t n" style="left:376.9px;top:884.66px;">1200</div>
<div class="t n" style="left:331.05px;top:907.56px;">1630</div>
<div class="t n" style="left:376.9px;top:907.56px;">1400</div>
<div class="t n" style="left:331.05px;top:930.46px;">1830</div>
<div class="t n" style="left:376.9px;top:930.46px;">1600</div>
<div class="t n" style="left:422.65px;top:873.21px;">70</div>
<div class="t n" style="left:468.5px;top:873.21px;">160</div>
<div class="t n" style="left:514.5px;top:873.21px;">32</div>
<div class="t n" style="left:560.4px;top:850.31px;">25<i>.</i>3</div>
<div class="t n" style="left:560.4px;top:919.01px;">27<i>.</i>8</div>
<div class="t n" style="left:609.7px;top:864.71px;">0<i>.</i>87</div>
<div class="t n" style="left:609.7px;top:881.71px;">1<i>.</i>32</div>
<div class="t n" style="left:662.2px;top:873.21px;">5<i>.</i>03</div>
<div class="t l ttl" style="left:-1.19px;top:984.8px;width:19.79px;text-align:center;transform:scaleX(.67);-webkit-text-stroke:.5px #1584c7">B</div>
<div class="t l ttl" style="left:19.44px;top:984.8px;width:7.61px;text-align:center;transform:scaleX(1.1);">I</div>
<div class="t l ttl" style="left:28.63px;top:984.8px;width:16.74px;text-align:center;transform:scaleX(.74);-webkit-text-stroke:.45px #1584c7">F</div>
<div class="t l ttl" style="left:50.44px;top:984.8px;width:9.12px;text-align:center;transform:scaleX(1.15);font-weight:400;font-size:29.5px;margin-top:-.6px">(</div>
<div class="t l ttl" style="left:237.44px;top:984.8px;width:9.12px;text-align:center;transform:scaleX(1.15);font-weight:400;font-size:29.5px;margin-top:-.6px">)</div>
<div class="t l dn" style="left:556.6px;top:995.11px"><span class="m" style="width:20.4px;margin:0 -2.2px;transform:scaleX(.78)">DN</span></div>
<div class="t dn" style="left:615.7px;top:995.11px">70000</div>
</body></html>
